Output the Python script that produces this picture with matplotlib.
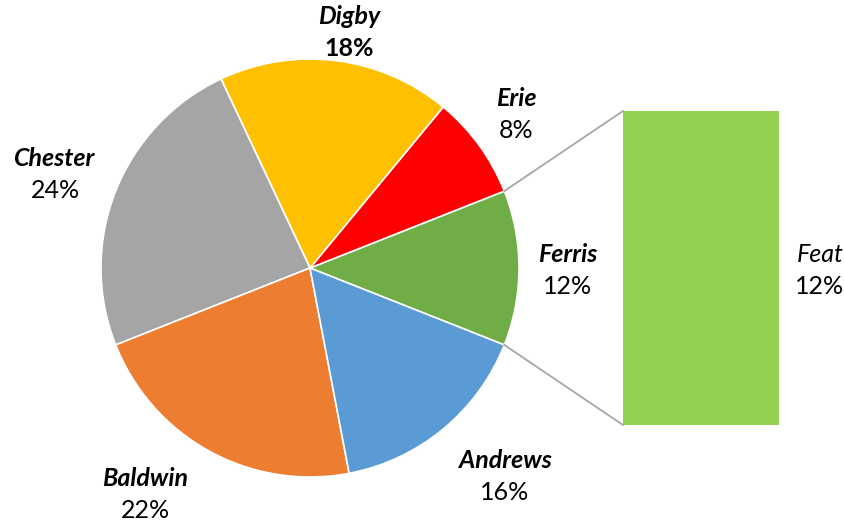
import numpy as np
import matplotlib
matplotlib.use("Agg")
from matplotlib import pyplot as plt

# pie slices, counter-clockwise from the right-hand (split) slice
names = ["Ferris", "Erie", "Digby", "Chester", "Baldwin", "Andrews"]
shares = [12, 8, 18, 24, 22, 16]
colors = ["#70AD47", "#FF0000", "#FFC000", "#A5A5A5", "#ED7D31", "#5B9BD5"]

# secondary bar made from the split slice
bar_names = ["Feat"]
bar_shares = [12]
bar_colors = ["#92D050"]

W, H = 844, 525
CENTER = (310, H - 268)
RADIUS = 209
BAR_X0, BAR_X1 = 623, 779
BAR_BOTTOM, BAR_TOP = H - 425, H - 111

# label anchors (pixel coords from top-left) for name / percentage lines
label_pos = {
    "Ferris": (568, 255),
    "Erie": (516, 98),
    "Digby": (349, 17),
    "Chester": (55, 158),
    "Baldwin": (145, 479),
    "Andrews": (505, 460),
    "Feat": (820, 255),
}
LINE_GAP = 32

plt.rcParams["font.family"] = ["Lato", "DejaVu Sans"]

fig = plt.figure(figsize=(W / 100, H / 100), dpi=100)
ax = fig.add_axes([0, 0, 1, 1])

split_angle = 360 * shares[0] / sum(shares)
start = -split_angle / 2
ax.pie(shares, colors=colors, startangle=start, counterclock=True,
       center=CENTER, radius=RADIUS, frame=True,
       wedgeprops=dict(edgecolor="white", linewidth=1.2))
ax.set_xlim(0, W)
ax.set_ylim(0, H)
ax.set_aspect("equal")
ax.axis("off")

# stacked bar for the split slice
bottom = BAR_BOTTOM
scale = (BAR_TOP - BAR_BOTTOM) / sum(bar_shares)
for val, col in zip(bar_shares, bar_colors):
    ax.bar((BAR_X0 + BAR_X1) / 2, val * scale, width=BAR_X1 - BAR_X0,
           bottom=bottom, color=col, edgecolor="none", zorder=2)
    bottom += val * scale

# connector lines from the split slice edges to the bar corners
for ang, ybar in [(start + split_angle, BAR_TOP), (start, BAR_BOTTOM)]:
    a = np.radians(ang)
    px = CENTER[0] + RADIUS * np.cos(a)
    py = CENTER[1] + RADIUS * np.sin(a)
    ax.plot([px, BAR_X0], [py, ybar], color="#A6A6A6", lw=1.3, zorder=1)

FS = 18
for name, val in zip(names + bar_names, shares + bar_shares):
    x, y = label_pos[name]
    name_weight = "normal" if name == "Feat" else "bold"
    pct_weight = "bold" if name == "Digby" else "normal"
    ax.text(x, H - y, name, ha="center", va="center", fontsize=FS,
            fontstyle="italic", fontweight=name_weight, color="black")
    ax.text(x, H - y - LINE_GAP, f"{val}%", ha="center", va="center",
            fontsize=FS, fontweight=pct_weight, color="black")

fig.savefig("out.png", dpi=100, facecolor="white")
